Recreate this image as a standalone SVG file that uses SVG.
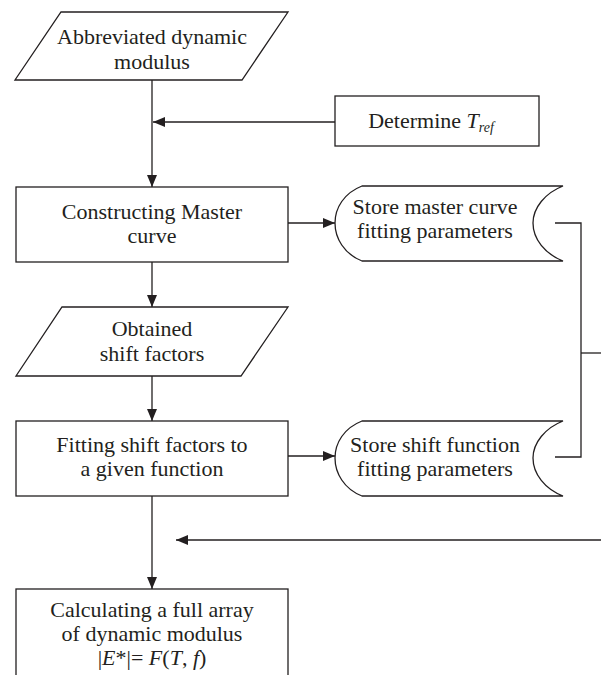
<svg xmlns="http://www.w3.org/2000/svg" width="601" height="675" viewBox="0 0 601 675">
<defs>
<style>
.s{fill:#fff;stroke:#231f20;stroke-width:1.3}
.c{fill:none;stroke:#231f20;stroke-width:1.3}
text{font-family:"Liberation Serif","Times New Roman",serif;font-size:22px;fill:#231f20;text-anchor:middle}
.i{font-style:italic}
</style>
<marker id="ah" viewBox="0 0 12 10" refX="12" refY="5" markerWidth="12" markerHeight="10" markerUnits="userSpaceOnUse" orient="auto">
<path d="M0,0 L12,5 L0,10 Z" fill="#231f20"/>
</marker>
</defs>
<g id="connectors">
<line class="c" x1="152" y1="80" x2="152" y2="187" marker-end="url(#ah)"/>
<line class="c" x1="335" y1="122" x2="153" y2="122" marker-end="url(#ah)"/>
<line class="c" x1="288" y1="223" x2="335" y2="223" marker-end="url(#ah)"/>
<line class="c" x1="152" y1="262" x2="152" y2="307" marker-end="url(#ah)"/>
<line class="c" x1="152" y1="376" x2="152" y2="421" marker-end="url(#ah)"/>
<line class="c" x1="288" y1="456" x2="335" y2="456" marker-end="url(#ah)"/>
<line class="c" x1="152" y1="496" x2="152" y2="589" marker-end="url(#ah)"/>
<polyline class="c" points="555,223 581,223 581,457 555,457"/>
<line class="c" x1="581" y1="353" x2="601" y2="353"/>
<line class="c" x1="601" y1="540" x2="176" y2="540" marker-end="url(#ah)"/>
</g>
<g id="abbreviated">
<polygon class="s" points="61,12 288,12 242,80 15,80"/>
<text x="152" y="44">Abbreviated dynamic</text>
<text x="152" y="69">modulus</text>
</g>
<g id="determine">
<rect class="s" x="335" y="96" width="204" height="50"/>
<text x="431" y="128">Determine <tspan class="i">T</tspan><tspan class="i" font-size="14" dy="4">ref</tspan></text>
</g>
<g id="constructing">
<rect class="s" x="16" y="187" width="272" height="75"/>
<text x="152" y="219">Constructing Master</text>
<text x="152" y="243">curve</text>
</g>
<g id="store-master">
<path class="s" d="M362,186 L563,186 C545,193 533,208 533,223 C533,239 545,254 563,261 L362,261 C344,254 335,238 335,223 C335,208 344,193 362,186 Z"/>
<text x="435" y="214">Store master curve</text>
<text x="435" y="238">fitting parameters</text>
</g>
<g id="obtained">
<polygon class="s" points="62,307 288,307 241,376 16,376"/>
<text x="152" y="336">Obtained</text>
<text x="152" y="361">shift factors</text>
</g>
<g id="fitting">
<rect class="s" x="16" y="421" width="272" height="75"/>
<text x="152" y="452">Fitting shift factors to</text>
<text x="152" y="476">a given function</text>
</g>
<g id="store-shift">
<path class="s" d="M362,421 L563,421 C545,428 533,443 533,458 C533,474 545,489 563,496 L362,496 C344,489 335,473 335,458 C335,443 344,428 362,421 Z"/>
<text x="435" y="452">Store shift function</text>
<text x="435" y="476">fitting parameters</text>
</g>
<g id="calculating">
<rect class="s" x="16" y="589" width="272" height="100"/>
<text x="152" y="617">Calculating a full array</text>
<text x="152" y="641">of dynamic modulus</text>
<text x="152" y="665">|<tspan class="i">E</tspan>*|= <tspan class="i">F</tspan>(<tspan class="i">T</tspan>, <tspan class="i">f</tspan>)</text>
</g>
</svg>
